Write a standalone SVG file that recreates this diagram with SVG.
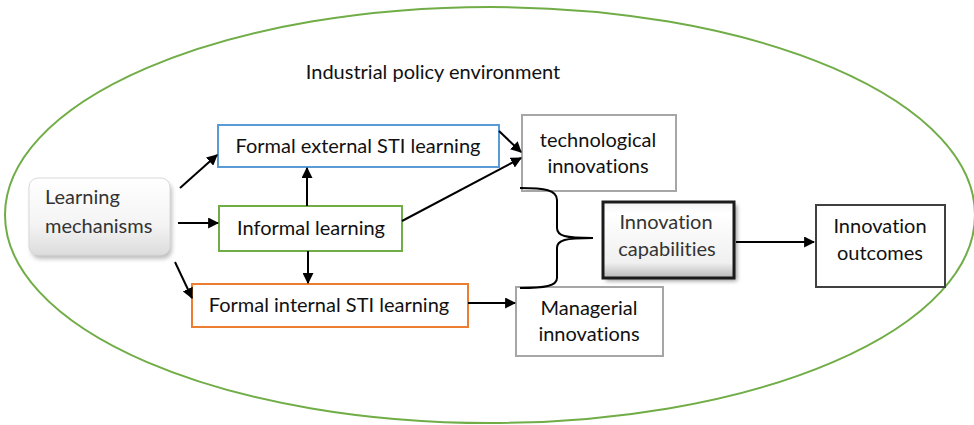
<svg xmlns="http://www.w3.org/2000/svg" width="974" height="425" viewBox="0 0 974 425">
  <style>
    text { font-family: Lato, "Liberation Sans", sans-serif; font-size: 20px; fill: #111; font-variant-ligatures: none; text-anchor: middle; }
    .box { fill: #fff; stroke-width: 2; }
    .gray { stroke: #a6a6a6; }
    .conn { stroke: #000; stroke-width: 2; fill: none; }
    .dark { fill: #333; }
    .left { text-anchor: start; }
  </style>
  <defs>
    <marker id="arrow" viewBox="0 0 10 10" refX="9" refY="5" markerWidth="5.5" markerHeight="5.5" orient="auto" markerUnits="strokeWidth">
      <path d="M0,0 L10,5 L0,10 z" fill="#000"/>
    </marker>
    <linearGradient id="lmFill" x1="0" y1="0" x2="0" y2="1">
      <stop offset="0" stop-color="#ffffff"/>
      <stop offset="0.6" stop-color="#f4f4f4"/>
      <stop offset="1" stop-color="#dcdcdc"/>
    </linearGradient>
    <linearGradient id="capFill" x1="0" y1="0" x2="0" y2="1">
      <stop offset="0" stop-color="#f2f2f2"/>
      <stop offset="0.15" stop-color="#ffffff"/>
      <stop offset="0.8" stop-color="#f0f0f0"/>
      <stop offset="1" stop-color="#b8b8b8"/>
    </linearGradient>
    <filter id="soft" x="-10%" y="-10%" width="130%" height="140%">
      <feGaussianBlur stdDeviation="2"/>
    </filter>
  </defs>

  <!-- policy environment boundary -->
  <ellipse cx="490" cy="215" rx="485" ry="208" fill="none" stroke="#70ad47" stroke-width="2"/>
  <text x="433" y="79">Industrial policy environment</text>

  <g id="learning-mechanisms">
    <rect x="31" y="182" width="141" height="77" rx="9" fill="#bfbfbf" filter="url(#soft)"/>
    <rect x="29" y="178" width="141" height="77" rx="9" fill="url(#lmFill)" stroke="#d9d9d9" stroke-width="1"/>
    <text class="dark left" x="45" y="204">Learning</text>
    <text class="dark left" x="45" y="233">mechanisms</text>
  </g>

  <g id="formal-external">
    <rect class="box" x="218" y="125" width="281" height="42" stroke="#5b9bd5"/>
    <text x="358" y="153">Formal external STI learning</text>
  </g>

  <g id="informal">
    <rect class="box" x="219" y="206" width="183" height="45" stroke="#70ad47"/>
    <text x="311" y="235">Informal learning</text>
  </g>

  <g id="formal-internal">
    <rect class="box" x="192" y="284" width="276" height="43" stroke="#ed7d31"/>
    <text x="329" y="312">Formal internal STI learning</text>
  </g>

  <g id="technological">
    <rect class="box gray" x="522" y="115" width="154" height="76"/>
    <text x="598" y="147">technological</text>
    <text x="598" y="173">innovations</text>
  </g>

  <g id="managerial">
    <rect class="box gray" x="516" y="287" width="147" height="69"/>
    <text x="589" y="315">Managerial</text>
    <text x="589" y="341">innovations</text>
  </g>

  <g id="capabilities">
    <rect x="606" y="205" width="131" height="76" fill="#9a9a9a" filter="url(#soft)"/>
    <rect x="603" y="202" width="131" height="76" fill="url(#capFill)" stroke="#1a1a1a" stroke-width="3"/>
    <text class="dark" x="666" y="229">Innovation</text>
    <text class="dark" x="667" y="256">capabilities</text>
  </g>

  <g id="outcomes">
    <rect class="box" x="816" y="205" width="129" height="82" stroke="#404040" stroke-width="1.5"/>
    <text x="880" y="233">Innovation</text>
    <text x="880" y="260">outcomes</text>
  </g>

  <g id="connectors">
    <line class="conn" x1="180" y1="188" x2="217" y2="155" marker-end="url(#arrow)"/>
    <line class="conn" x1="178" y1="223" x2="218" y2="223" marker-end="url(#arrow)"/>
    <line class="conn" x1="175" y1="262" x2="192" y2="298" marker-end="url(#arrow)"/>
    <line class="conn" x1="307" y1="206" x2="307" y2="168" marker-end="url(#arrow)"/>
    <line class="conn" x1="308" y1="251" x2="308" y2="283" marker-end="url(#arrow)"/>
    <line class="conn" x1="499" y1="131" x2="521" y2="152" marker-end="url(#arrow)"/>
    <line class="conn" x1="402" y1="221" x2="521" y2="158" marker-end="url(#arrow)"/>
    <line class="conn" x1="468" y1="303" x2="515" y2="303" marker-end="url(#arrow)"/>
    <line class="conn" x1="736" y1="242" x2="814" y2="242" marker-end="url(#arrow)"/>
    <!-- brace joining both innovation types -->
    <path class="conn" d="M520,188 C545,188 557,190 557,200 L557,228 C557,236 565,238 593,238 C565,238 557,240 557,248 L557,278 C557,286 545,288 520,288"/>
  </g>
</svg>
